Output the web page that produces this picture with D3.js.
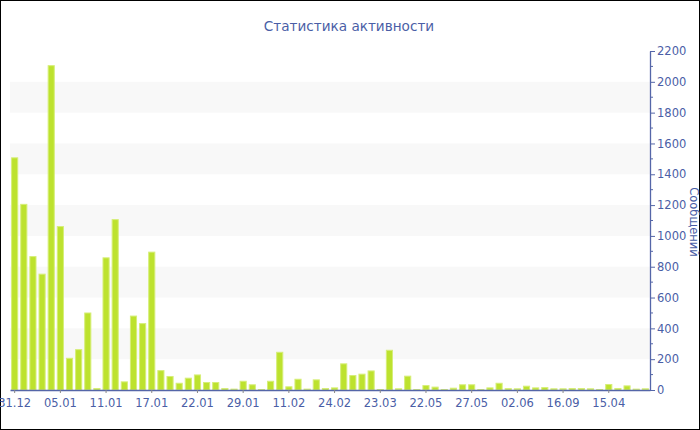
<!DOCTYPE html>
<html><head><meta charset="utf-8">
<script src="https://cdn.jsdelivr.net/npm/d3@7"></script>
<style>html,body{margin:0;padding:0;background:#fff;}svg{display:block;}</style>
</head><body>
<svg id="c" width="700" height="430"></svg>
<script>
const categories = ["31.12","01.01","02.01","03.01","04.01","05.01","06.01","07.01","08.01","10.01",
"11.01","12.01","13.01","14.01","16.01","17.01","18.01","19.01","20.01","21.01",
"22.01","23.01","24.01","26.01","28.01","29.01","31.01","02.02","05.02","09.02",
"11.02","12.02","16.02","18.02","21.02","24.02","25.02","26.02","27.02","01.03",
"23.03","24.03","30.03","02.04","15.04","22.05","23.05","24.05","25.05","26.05",
"27.05","28.05","29.05","30.05","31.05","02.06","15.06","10.07","20.08","01.09",
"16.09","05.10","20.11","25.12","10.03","15.04","20.05","30.06","15.08","01.10"];
const messages = [1510,1208,869,755,2108,1064,209,265,503,13,
861,1109,56,483,434,898,129,91,47,80,
101,52,52,13,9,60,37,6,60,248,
24,73,9,69,13,17,173,97,106,127,
6,261,11,93,6,32,22,6,15,37,
37,6,17,47,12,11,28,17,19,11,
11,13,13,11,6,39,13,30,9,11];
const yTicks = [0,200,400,600,800,1000,1200,1400,1600,1800,2000,2200];
const bandRanges = [[200,400],[600,800],[1000,1200],[1400,1600],[1800,2000]];
const titleText = "Статистика активности";
const yLabel = "Сообщений";

(function(){
const svg = d3.select("#c");
const W = 700, H = 430;
const pL = 10, pR = 650, pT = 51, pB = 390;
const textColor = "#4a5ea6", axisColor = "#5566a8";
const font = "'DejaVu Sans', Verdana, sans-serif";

const x = d3.scaleBand().domain(d3.range(categories.length)).range([pL, pR]).paddingInner(0.22).paddingOuter(0.12);
const y = d3.scaleLinear().domain([0, 2200]).range([pB, pT]);

svg.append("rect").attr("x",0.5).attr("y",0.5).attr("width",W-1).attr("height",H-1)
  .attr("fill","#fff").attr("stroke","#000").attr("stroke-width",1);

svg.selectAll("rect.band").data(bandRanges).enter().append("rect").attr("class","band")
  .attr("x", pL).attr("width", pR-pL)
  .attr("y", d => y(d[1])).attr("height", d => y(d[0]) - y(d[1]))
  .attr("fill", "#f8f8f8");

svg.selectAll("rect.bar").data(messages).enter().append("rect").attr("class","bar")
  .attr("x", (d,i) => x(i)+0.5).attr("width", x.bandwidth()-1)
  .attr("y", d => y(d)+0.5).attr("height", d => Math.max(0, pB - y(d) - 0.5))
  .attr("fill", "#bde22e").attr("stroke", "#d6ee78").attr("stroke-width", 1);

const xAxis = d3.axisBottom(x).tickValues(d3.range(0, categories.length, 5))
  .tickFormat(i => categories[i]).tickSize(3).tickSizeOuter(0);
const gx = svg.append("g").attr("transform", `translate(0,${pB})`).call(xAxis);
gx.select(".domain").attr("stroke", axisColor).attr("stroke-width", 1.3);
gx.selectAll(".tick line").attr("stroke", "#888");
gx.selectAll(".tick text").attr("fill", textColor).attr("font-family", font).attr("font-size", "11.5px").attr("dy","0.95em");

const yAxis = d3.axisRight(y).tickValues(yTicks).tickFormat(d3.format("d")).tickSize(5).tickSizeOuter(0).tickPadding(2);
const gy = svg.append("g").attr("transform", `translate(${pR},0)`).call(yAxis);
gy.select(".domain").attr("stroke", axisColor).attr("stroke-width", 1.3);
gy.selectAll(".tick line").attr("stroke", axisColor);
gy.selectAll(".tick text").attr("fill", textColor).attr("font-family", font).attr("font-size", "11.5px");
const minor = d3.range(100, 2200, 200);
gy.selectAll("line.minor").data(minor).enter().append("line").attr("class","minor")
  .attr("x1",0).attr("x2",3).attr("y1", d=>y(d)).attr("y2", d=>y(d)).attr("stroke", axisColor);

svg.append("text").attr("x", 349).attr("y", 31).attr("text-anchor","middle")
  .attr("fill", textColor).attr("font-family", font).attr("font-size","13.6px").text(titleText);

svg.append("text").attr("transform", `translate(690,222) rotate(90)`).attr("text-anchor","middle")
  .attr("fill", textColor).attr("font-family", font).attr("font-size","11.5px").text(yLabel);
})();
</script>
</body></html>
